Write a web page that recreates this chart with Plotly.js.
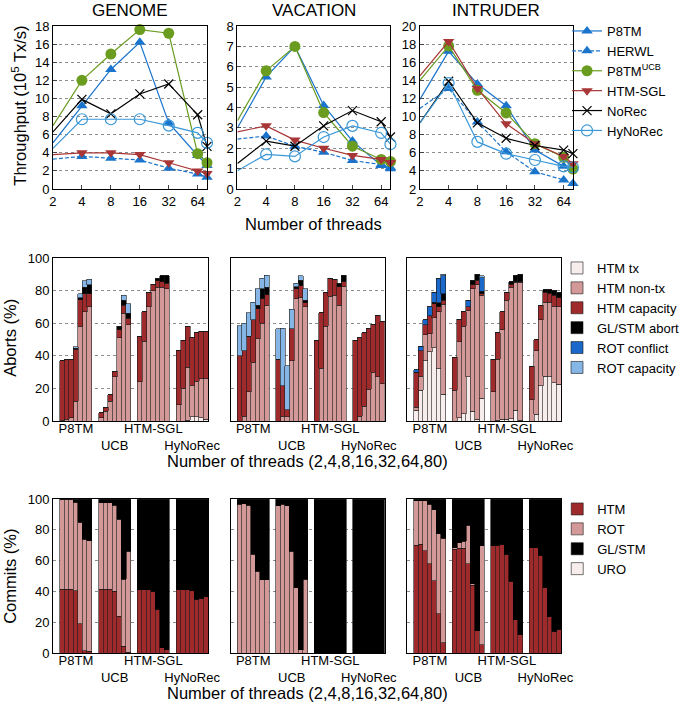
<!DOCTYPE html>
<html>
<head>
<meta charset="utf-8">
<script src="https://cdn.plot.ly/plotly-3.0.1.min.js"></script>
<style>
  html, body { margin: 0; padding: 0; background: #fff; }
  #chart { width: 685px; height: 706px; }
</style>
</head>
<body>
<div id="chart"></div>
<script>
// ---- data ----
var threads = [2, 4, 8, 16, 32, 64, 80];
var threadTicks = [2, 4, 8, 16, 32, 64];
var benchmarks = ["GENOME", "VACATION", "INTRUDER"];
var systems = ["P8TM", "HERWL", "P8TM<sup>UCB</sup>", "HTM-SGL", "NoRec", "HyNoRec"];
var groups = ["P8TM", "UCB", "HTM-SGL", "HyNoRec"];
var abortKinds = ["HTM tx", "HTM non-tx", "HTM capacity", "GL/STM abort", "ROT conflict", "ROT capacity"];
var commitKinds = ["HTM", "ROT", "GL/STM", "URO"];

// throughput (10^5 tx/s)
var genomeP8tm    = [5.1, 9.2, 13.2, 16.2, 7.3, 3.7, 2.6];
var genomeHerwl   = [3.3, 3.6, 3.4, 3.2, 2.3, 1.65, 1.3];
var genomeUcb     = [7.0, 12.0, 14.9, 17.6, 17.2, 3.9, 2.9];
var genomeSgl     = [3.8, 4.0, 4.0, 3.8, 2.9, 2.0, 1.7];
var genomeNorec   = [6.3, 9.9, 8.3, 10.5, 11.6, 8.2, 4.7];
var genomeHynorec = [4.5, 7.7, 7.7, 7.7, 7.0, 6.2, 5.1];

var vacP8tm    = [3.0, 5.5, 7.0, 4.1, 2.35, 1.15, 1.05];
var vacHerwl   = [2.45, 2.6, 2.1, 1.8, 1.4, 1.2, 1.0];
var vacUcb     = [3.35, 5.8, 7.0, 3.75, 2.1, 1.45, 1.35];
var vacSgl     = [2.8, 3.1, 2.4, 2.0, 1.65, 1.45, 1.3];
var vacNorec   = [1.25, 2.35, 2.1, 3.1, 3.85, 3.3, 2.55];
var vacHynorec = [0.9, 1.7, 1.6, 2.55, 3.1, 2.75, 2.2];

var intP8tm    = [11.9, 17.2, 13.6, 11.2, 6.3, 4.5, 4.3];
var intHerwl   = [10.9, 13.1, 9.4, 6.1, 3.9, 3.0, 2.6];
var intUcb     = [14.0, 17.8, 12.9, 10.4, 7.0, 5.5, 4.2];
var intSgl     = [14.5, 18.3, 13.1, 9.2, 7.0, 5.6, 4.8];
var intNorec   = [9.3, 13.9, 9.3, 7.6, 6.8, 6.3, 5.9];
var intHynorec = [9.3, 13.7, 7.2, 5.9, 5.2, 4.5, 4.4];

// aborts (%), top edge of each stacked layer; 7 thread counts per group
var gAbTx     = [0,0,0,0,0,0,0,  0,0,0,0,0,0,0,  0,0,0,0,0,0,0,  0,0,0.5,2.5,2.5,2,1];
var gAbNonTx  = [0.5,1,2,12,58,67,70,  2,6,12,27,51,66,59,  24,49,70,80,82,82,81,  10,20,33,22,24.5,26,26];
var gAbCap    = [37,37.5,38,44,74.5,78,78,  5,8.5,16,30.5,56,71,63,  52,67,79,84,86,85.5,84.5,  43,49.5,58,51.5,54,55,55];
var gAbGl     = [37,37.5,38,44.5,75.5,82,83.5,  5,8.5,16,30.5,58,74,66,  52,67,79,84,87.5,89,89,  43,49.5,58,51.5,54,55,55];
var gAbRotC   = [37,37.5,38,44.5,75.5,82,83.5,  5,8.5,16,30.5,58,74,66,  52,67,79,84,87.5,89,89,  43,49.5,58,51.5,54,55,55];
var gAbRotCap = [37,37.5,38,45.5,78,86,87,  5,8.5,16,30.5,58,77,72,  52,67,79,84,87.5,89,89,  43,49.5,58,51.5,54,55,55];

var vAbTx     = [0,0,0,0,0,0,0,  0,0,0,0,0,0,0,  0,0,0,0,0,0,0,  0,0,0,0,0,0,0];
var vAbNonTx  = [0,3,18,36,50.5,60,71,  0,3,2.5,37,75,76,70,  0,32.5,58,76.5,77,71,82.5,  0,3,9,19.5,30,27,23];
var vAbCap    = [40,43,52,62,69,75,77.5,  38,21.5,7,56.5,81,83,72.5,  49.5,66.5,79,87.5,87,82.5,85.5,  49.5,51.5,54,56.5,59.5,65,61];
var vAbGl     = [40,43,52,62,71,81,82,  38,21.5,7,56.5,82.5,86.5,74,  49.5,66.5,79,87.5,87,84.5,89.5,  49.5,51.5,54,56.5,59.5,65,61];
var vAbRotC   = [40,43,52,62,71,81,82,  38,21.5,7,56.5,82.5,86.5,74,  49.5,66.5,79,87.5,87,84.5,89.5,  49.5,51.5,54,56.5,59.5,65,61];
var vAbRotCap = [58.5,60,66.5,73,81,87.5,89.5,  56.5,57,34,68.5,84.5,89,81,  49.5,66.5,79,87.5,87,84.5,89.5,  49.5,51.5,54,56.5,59.5,65,61];

var iAbTx     = [6.5,19,37,42.5,45,32,16.5,  0,2,4.5,27,6,1,14,  0,0.5,1,1,1.5,6.5,0.5,  0,4,21.5,27.5,27,23.5,22.5];
var iAbNonTx  = [8.5,27.5,53,53.5,63.5,67,71.5,  19,48.5,58,67.5,81,83.5,77,  18,38,56,74,82,85,85,  13,43,62,73,73,70.5,70];
var iAbCap    = [30,43,59,64.5,72,70,74,  39,62.5,67,70,83.5,86.5,78,  38,54,67,79,84,85.5,85.5,  33.5,50,71,79,78.5,77,75.5];
var iAbGl     = [30,43,59,64.5,73,72.5,78,  39,62.5,67,70,86.5,90,79.5,  38,54,67,79,85.5,89.5,90,  33.5,50,71,80.5,80.5,80,79];
var iAbRotC   = [31.5,46,62,70,79,87.5,89,  39,62.5,67,74,86.5,90,88,  38,54,67,79,85.5,89.5,90,  33.5,50,71,80.5,80.5,80,79];
var iAbRotCap = [31.5,46,62,70,79,87.5,90,  39,62.5,67,74,86.5,90,89,  38,54,67,79,85.5,89.5,90,  33.5,50,71,80.5,80.5,80,79];

// commits (%), top edge of the HTM and ROT layers; GL/STM fills the rest up to 100
var gCmHtm = [41.5,41.5,41.5,40.5,19,1.5,1,  41.5,41.5,41.5,40,24,4.5,0.5,  41,41,41,40,28.5,3.5,2,  41,41,41,40.5,35,35.5,36.5];
var gCmRot = [99.5,99.5,99.5,98,85,74,73,  97.5,97.5,97.5,96,87,48,66,  41,41,41,40,28.5,3.5,2,  41,41,41,40.5,35,35.5,36.5];
var vCmHtm = [0,0,0,0,0,0,0,  0,0,0,0,0,0,0,  0,0,0,0,0,0,0,  0,0,0,0,0,0,0];
var vCmRot = [96.5,97,96,64,53,47.5,47.5,  95.5,96.5,95.5,66,42.5,2,48,  0,0,0,0,0,0,0,  0,0,0,0,0,0,0];
var iCmHtm = [70,70.5,66.5,58,47,25.5,6.5,  67.5,68,68,58,44,14.5,5.5,  69.5,70,70.5,64,46.5,21.5,12,  68.5,68.5,63.5,42.5,23.5,14,15.5];
var iCmRot = [99,99,99,96.5,93,77.5,74.5,  68.5,71.5,72.5,83,45,14.5,69.5,  69.5,70,70.5,64,46.5,21.5,12,  68.5,68.5,63.5,42.5,23.5,14,15.5];
var cmUro  = [0,0,0,0,0,0,0,  0,0,0,0,0,0,0,  0,0,0,0,0,0,0,  0,0,0,0,0,0,0];

// ---- styles ----
var W = 685, H = 706;
var FONT = "Liberation Sans, Arial, Helvetica, sans-serif";
var lineColors = ["#1b74cc", "#1b74cc", "#6a9c1f", "#a83636", "#000000", "#3a98d8"];
var lineDash = ["solid", "4px,2px", "solid", "solid", "solid", "solid"];
var symbols = ["triangle-up", "triangle-up", "circle", "triangle-down", "x-thin-open", "circle-open"];
var symSize = [10, 10, 11, 10, 9, 11];
var abortColors = ["#f8eded", "#d39898", "#9e2a2b", "#000000", "#1a68c9", "#86b6e6"];
var commitColors = ["#9e2a2b", "#d39898", "#000000", "#f8eded"];

var tput = [
  [genomeP8tm, genomeHerwl, genomeUcb, genomeSgl, genomeNorec, genomeHynorec],
  [vacP8tm, vacHerwl, vacUcb, vacSgl, vacNorec, vacHynorec],
  [intP8tm, intHerwl, intUcb, intSgl, intNorec, intHynorec]
];
var aborts = [
  [gAbTx, gAbNonTx, gAbCap, gAbGl, gAbRotC, gAbRotCap],
  [vAbTx, vAbNonTx, vAbCap, vAbGl, vAbRotC, vAbRotCap],
  [iAbTx, iAbNonTx, iAbCap, iAbGl, iAbRotC, iAbRotCap]
];
var commits = [[gCmHtm, gCmRot], [vCmHtm, vCmRot], [iCmHtm, iCmRot]];
var yRanges = [[0, 18, 2], [0, 8, 1], [2, 20, 2]];

// bar slots: 7 bars per group with a gap before each group
var GAP = 1.55;
var barX = [];
for (var g = 0; g < groups.length; g++)
  for (var i = 0; i < 7; i++) barX.push(GAP + g * (7 + GAP) + i + 0.5);
var groupX = groups.map((_, g) => GAP + g * (7 + GAP) + 3.5);
var groupText = groups.map((s, g) => g % 2 ? "<br>" + s : s);
var xMax = groups.length * (7 + GAP);

// panel boxes in pixels [left, right], [top, bottom]
var colsTop = [[54, 211], [242, 398], [428, 584]];
var colsBar = [[54, 212], [235, 392], [415, 572]];
var rowsY = [[26, 189], [258, 421], [499, 653]];

var dom = (a, b) => [a / W, b / W];
var domY = (t, b) => [1 - b / H, 1 - t / H];

var traces = [];
var lay = {
  width: W, height: H,
  margin: {l: 0, r: 0, t: 0, b: 0},
  paper_bgcolor: "#fff", plot_bgcolor: "#fff",
  font: {family: FONT, size: 13, color: "#000"},
  barmode: "stack", bargap: 0,
  showlegend: true,
  legend: {x: 578 / W, y: 1 - 16 / H, xanchor: "left", yanchor: "top", traceorder: "normal",
           font: {size: 13}, bgcolor: "rgba(0,0,0,0)", itemwidth: 30},
  legend2: {x: 568 / W, y: 1 - 253 / H, xanchor: "left", yanchor: "top", traceorder: "normal",
            font: {size: 13}, bgcolor: "rgba(0,0,0,0)", itemwidth: 30},
  legend3: {x: 568 / W, y: 1 - 494 / H, xanchor: "left", yanchor: "top", traceorder: "normal",
            font: {size: 13}, bgcolor: "rgba(0,0,0,0)", itemwidth: 30},
  annotations: []
};

function boxAxis(ax) {
  ax.showline = true; ax.mirror = true; ax.linecolor = "#000"; ax.linewidth = 1;
  ax.zeroline = false; ax.fixedrange = true; ax.tickangle = 0;
  ax.tickfont = {size: 13};
  return ax;
}

for (var c = 0; c < 3; c++) {
  // row 1: throughput lines
  var k = c + 1;
  lay["xaxis" + k] = boxAxis({
    domain: dom(colsTop[c][0], colsTop[c][1]), anchor: "y" + k,
    type: "log", range: [Math.log10(2), Math.log10(80)],
    tickvals: threadTicks, ticktext: threadTicks.map(String),
    ticks: "inside", ticklen: 4, showgrid: false
  });
  lay["yaxis" + k] = boxAxis({
    domain: domY(rowsY[0][0], rowsY[0][1]), anchor: "x" + k,
    range: [yRanges[c][0], yRanges[c][1]], dtick: yRanges[c][2], tick0: 0,
    ticks: "inside", ticklen: 4,
    showgrid: true, gridcolor: "#8c8c8c", griddash: "dot", gridwidth: 1
  });
  for (var s = 0; s < systems.length; s++) {
    var hollow = symbols[s].indexOf("open") >= 0;
    traces.push({
      type: "scatter", mode: "lines+markers", name: systems[s],
      x: threads, y: tput[c][s], xaxis: "x" + k, yaxis: "y" + k,
      line: {color: lineColors[s], width: 1.2, dash: lineDash[s]},
      marker: {symbol: symbols[s], size: symSize[s], color: lineColors[s],
               line: {color: lineColors[s], width: hollow ? 1.2 : 0}},
      cliponaxis: false, legend: "legend", showlegend: c === 2
    });
  }

  // row 2: abort breakdown
  k = c + 4;
  lay["xaxis" + k] = boxAxis({
    domain: dom(colsBar[c][0], colsBar[c][1]), anchor: "y" + k,
    range: [0, xMax], tickvals: groupX, ticktext: groupText, ticks: "", showgrid: false,
    ticklabelstandoff: -5
  });
  lay["yaxis" + k] = boxAxis({
    domain: domY(rowsY[1][0], rowsY[1][1]), anchor: "x" + k,
    range: [0, 100], dtick: 20, showticklabels: c === 0, ticks: "",
    showgrid: true, gridcolor: "#8c8c8c", griddash: "dot", gridwidth: 1
  });
  for (var a = 0; a < abortKinds.length; a++) {
    var upperLvl = aborts[c][a], lowerLvl = a > 0 ? aborts[c][a - 1] : null;
    traces.push({
      type: "bar", name: abortKinds[a], x: barX, width: 1.1,
      y: upperLvl.map((v, j) => Math.max(0, v - (lowerLvl ? lowerLvl[j] : 0))),
      xaxis: "x" + k, yaxis: "y" + k,
      marker: {color: abortColors[a], line: {color: "#1a1a1a", width: 0.6}},
      legend: "legend2", showlegend: c === 2
    });
  }

  // row 3: commit breakdown
  k = c + 7;
  lay["xaxis" + k] = boxAxis({
    domain: dom(colsBar[c][0], colsBar[c][1]), anchor: "y" + k,
    range: [0, xMax], tickvals: groupX, ticktext: groupText, ticks: "", showgrid: false,
    ticklabelstandoff: -5
  });
  lay["yaxis" + k] = boxAxis({
    domain: domY(rowsY[2][0], rowsY[2][1]), anchor: "x" + k,
    range: [0, 100], dtick: 20, showticklabels: c === 0, ticks: "",
    showgrid: true, gridcolor: "#8c8c8c", griddash: "dot", gridwidth: 1
  });
  var htm = commits[c][0], rot = commits[c][1];
  var parts = [
    htm,
    rot.map((v, j) => v - htm[j]),
    rot.map((v) => 100 - v),
    cmUro
  ];
  for (var m = 0; m < commitKinds.length; m++) {
    traces.push({
      type: "bar", name: commitKinds[m], x: barX, width: 1.1, y: parts[m],
      xaxis: "x" + k, yaxis: "y" + k,
      marker: {color: commitColors[m], line: {color: m === 2 ? "#000" : "#1a1a1a", width: 0.6}},
      legend: "legend3", showlegend: c === 2
    });
  }

  lay.annotations.push({
    text: benchmarks[c], xref: "paper", yref: "paper",
    x: (colsTop[c][0] + colsTop[c][1]) / 2 / W, y: 1 - 10 / H,
    xanchor: "center", yanchor: "middle", showarrow: false, font: {size: 17}
  });
}

function addLabel(text, xp, yp, angle) {
  lay.annotations.push({
    text: text, xref: "paper", yref: "paper", x: xp / W, y: 1 - yp / H,
    xanchor: "center", yanchor: "middle", showarrow: false, textangle: angle || 0,
    font: {size: 16.5}
  });
}
addLabel("Number of threads", 320, 224);
addLabel("Number of threads (2,4,8,16,32,64,80)", 313, 461);
addLabel("Number of threads (2,4,8,16,32,64,80)", 313, 693);
addLabel("Throughput (10<sup>5</sup> Tx/s)", 19, 106, -90);
addLabel("Aborts (%)", 10, 338, -90);
addLabel("Commits (%)", 10, 576, -90);

Plotly.newPlot("chart", traces, lay, {staticPlot: true, displayModeBar: false});
</script>
</body>
</html>
